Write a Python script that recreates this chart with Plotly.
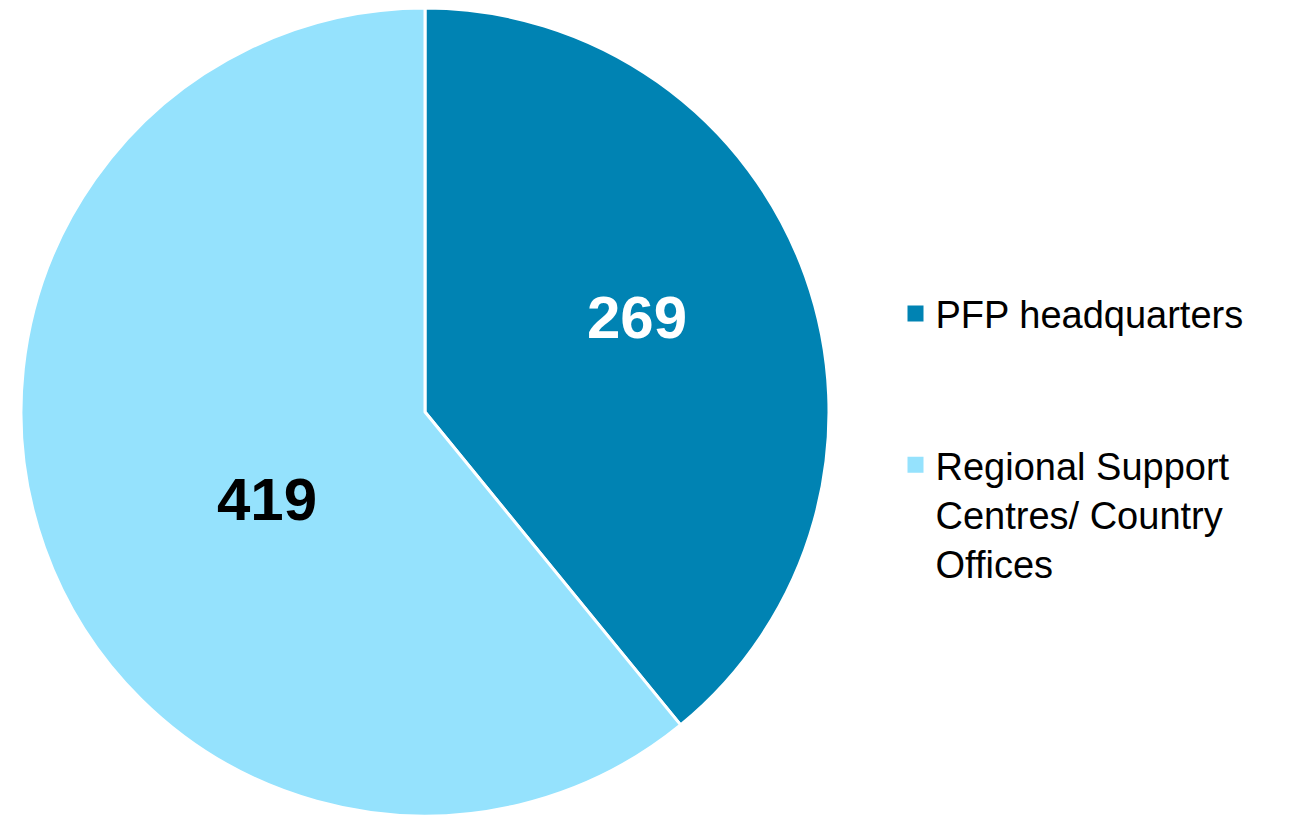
import plotly.graph_objects as go

labels = ["PFP headquarters", "Regional Support Centres/ Country Offices"]
legend_labels = ["PFP headquarters<br> <br> ", "Regional Support<br>Centres/ Country<br>Offices"]
values = [269, 419]
colors = ["#0083B3", "#95E2FD"]
text_colors = ["white", "black"]
# label anchor positions (paper coords) for the value labels
label_pos = [(0.4853, 0.6213), (0.1998, 0.3971)]

fig = go.Figure()
fig.add_trace(go.Pie(
    labels=labels,
    values=values,
    sort=False,
    direction="clockwise",
    rotation=0,
    marker=dict(colors=colors, line=dict(color="white", width=3)),
    textinfo="none",
    domain=dict(x=[0.01003, 0.63349], y=[0.0098, 1.0]),
    hoverinfo="label+value",
    showlegend=False,
))

# legend entries (square swatches) matching the slices
for name, c in zip(legend_labels, colors):
    fig.add_trace(go.Scatter(
        x=[None], y=[None], mode="markers", name=name,
        marker=dict(symbol="square", size=16, color=c),
        showlegend=True, hoverinfo="skip",
    ))

for v, c, (px, py) in zip(values, text_colors, label_pos):
    fig.add_annotation(
        x=px, y=py, xref="paper", yref="paper",
        text=f"<b>{v}</b>", showarrow=False,
        xanchor="center", yanchor="middle",
        font=dict(family="Liberation Sans", size=60, color=c),
    )

fig.update_layout(
    width=1296, height=816,
    margin=dict(l=0, r=0, t=0, b=0),
    paper_bgcolor="white",
    plot_bgcolor="white",
    font=dict(family="Liberation Sans", color="black"),
    xaxis=dict(visible=False),
    yaxis=dict(visible=False),
    showlegend=True,
    legend=dict(
        x=0.6848, y=0.6637, xanchor="left", yanchor="top",
        font=dict(family="Liberation Sans", size=38, color="black"),
        valign="top",
        bgcolor="rgba(0,0,0,0)",
        tracegroupgap=0,
        traceorder="normal",
        itemsizing="trace",
        itemclick=False,
    ),
)

fig.write_html("out.html")
